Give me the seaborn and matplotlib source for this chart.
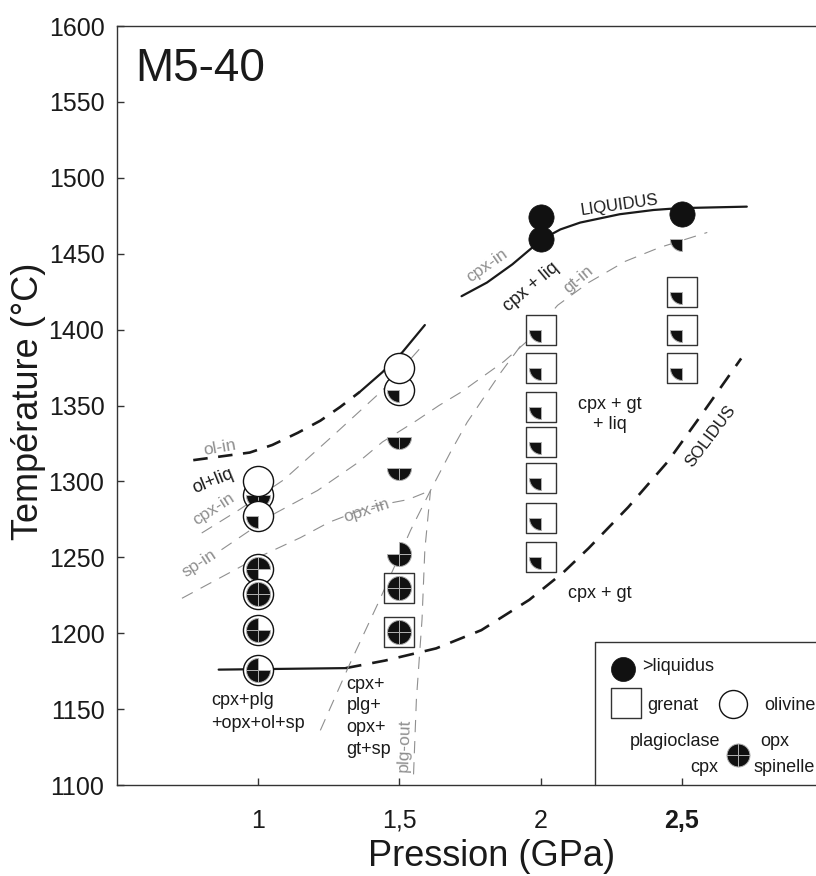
import matplotlib
matplotlib.use("Agg")
import matplotlib.pyplot as plt
import seaborn as sns
from matplotlib.path import Path


# Experimental runs (drawing order matters: later symbols sit on top)
run_p = [1, 1, 1, 1, 1, 1, 1,
         1.5, 1.5, 1.5, 1.5, 1.5, 1.5, 1.5,
         2, 2, 2, 2, 2, 2, 2, 2, 2,
         2.5, 2.5, 2.5, 2.5, 2.5]
run_t = [1291, 1300, 1277, 1242, 1226, 1202, 1176,
         1360, 1375, 1329, 1309, 1252, 1230, 1201,
         1474, 1460, 1400, 1375, 1349, 1326, 1302, 1276, 1250,
         1476, 1460, 1425, 1400, 1375]

# Phases present in each run (1 = present)
above_liq = [0, 0, 0, 0, 0, 0, 0,
             0, 0, 0, 0, 0, 0, 0,
             1, 1, 0, 0, 0, 0, 0, 0, 0,
             1, 0, 0, 0, 0]
olivine = [1, 1, 1, 1, 1, 1, 1,
           1, 1, 0, 0, 0, 0, 0,
           0, 0, 0, 0, 0, 0, 0, 0, 0,
           0, 0, 0, 0, 0]
garnet = [0, 0, 0, 0, 0, 0, 0,
          0, 0, 0, 0, 0, 1, 1,
          0, 0, 1, 1, 1, 1, 1, 1, 1,
          0, 0, 1, 1, 1]
cpx = [1, 0, 1, 1, 1, 1, 1,
       1, 0, 1, 1, 1, 1, 1,
       0, 0, 1, 1, 1, 1, 1, 1, 1,
       0, 1, 1, 1, 1]
opx = [0, 0, 0, 1, 1, 0, 0,
       0, 0, 0, 0, 1, 1, 1,
       0, 0, 0, 0, 0, 0, 0, 0, 0,
       0, 0, 0, 0, 0]
plg = [0, 0, 0, 1, 1, 1, 1,
       0, 0, 0, 0, 0, 1, 1,
       0, 0, 0, 0, 0, 0, 0, 0, 0,
       0, 0, 0, 0, 0]
spinel = [1, 0, 0, 0, 1, 1, 1,
          0, 0, 1, 1, 1, 1, 1,
          0, 0, 0, 0, 0, 0, 0, 0, 0,
          0, 0, 0, 0, 0]

# Phase boundaries
liquidus_p = [1.72, 1.81, 1.90, 1.97, 2.01, 2.07, 2.14, 2.28, 2.40, 2.49, 2.73]
liquidus_t = [1422, 1431, 1443, 1454, 1460, 1466, 1470.5, 1476, 1478.8, 1480, 1481]

olin_solid_p = [1.36, 1.40, 1.44, 1.51, 1.59]
olin_solid_t = [1359, 1365.5, 1372, 1385, 1403]
olin_dash_p = [0.77, 0.97, 1.05, 1.14, 1.22, 1.29, 1.36]
olin_dash_t = [1314, 1319, 1324, 1332, 1340, 1349, 1359]

solidus_solid_p = [0.86, 1.31]
solidus_solid_t = [1176, 1177]
solidus_dash_p = [1.31, 1.45, 1.63, 1.79, 1.96, 2.08, 2.17, 2.31, 2.45, 2.57, 2.71]
solidus_dash_t = [1177, 1182, 1190, 1202, 1222, 1240, 1256, 1283, 1313, 1344, 1381]

cpxin_p = [0.80, 0.93, 1.09, 1.27, 1.44, 1.57]
cpxin_t = [1266, 1281, 1301, 1331, 1360, 1387]

spin_p = [0.87, 1.06, 1.21, 1.35, 1.44, 1.56, 1.64, 1.72, 1.87, 1.95]
spin_t = [1255, 1279, 1294, 1312, 1326, 1340, 1350, 1359, 1379, 1392]

opxin_p = [0.73, 0.86, 1.00, 1.15, 1.25, 1.39, 1.53, 1.61]
opxin_t = [1223, 1236, 1250, 1263, 1273, 1283, 1288, 1294]

gtin_p = [1.22, 1.32, 1.43, 1.54, 1.61, 1.68, 1.74, 1.86, 1.94, 2.00, 2.06,
          2.17, 2.30, 2.42, 2.59]
gtin_t = [1136, 1178, 1222, 1268, 1294, 1319, 1339, 1372, 1392, 1403, 1416,
          1431, 1445, 1454, 1464]

plgout_p = [1.55, 1.56, 1.58, 1.59, 1.61]
plgout_t = [1107, 1156, 1209, 1255, 1294]

x_ticks = [1, 1.5, 2, 2.5]
x_tick_labels = ["1", "1,5", "2", "2,5"]
y_ticks = [1100, 1150, 1200, 1250, 1300, 1350, 1400, 1450, 1500, 1550, 1600]


sns.set_theme(style="white")
plt.rcParams["font.family"] = ["Liberation Sans", "DejaVu Sans"]

GRAY = "#8f8f8f"
INK = "#1a1a1a"

# quadrant markers: plagioclase / opx / cpx / spinelle
wedge = {
    "plg": Path.wedge(90, 180),
    "opx": Path.wedge(0, 90),
    "cpx": Path.wedge(180, 270),
    "sp": Path.wedge(270, 360),
}

fig = plt.figure(figsize=(8.16, 8.76), dpi=100)
ax = fig.add_axes([117 / 816, 91 / 876, 699 / 816, 759 / 876])


def curve(p, t, color, lw, dash=None):
    ls = "-" if dash is None else (0, dash)
    sns.lineplot(x=p, y=t, sort=False, estimator=None, color=color,
                 linewidth=lw, linestyle=ls, ax=ax, zorder=2)


def dot(x, y, marker, s, fc, ec, lw, z, trans=None):
    kw = {} if trans is None else {"transform": trans}
    sns.scatterplot(x=[x], y=[y], marker=marker, s=s, color=fc,
                    edgecolor=ec, linewidth=lw, zorder=z, ax=ax,
                    clip_on=False, **kw)


def quads(x, y, names, s, z, trans=None):
    for name in names:
        dot(x, y, wedge[name], s, "#111111", "#b0b0b0", 0.7, z, trans)


# Boundaries
curve(liquidus_p, liquidus_t, INK, 1.6)
curve(olin_solid_p, olin_solid_t, INK, 1.6)
curve(olin_dash_p, olin_dash_t, INK, 1.9, (5.5, 4))
curve(solidus_solid_p, solidus_solid_t, INK, 1.6)
curve(solidus_dash_p, solidus_dash_t, INK, 1.9, (6, 4.2))
for p, t in [(cpxin_p, cpxin_t), (spin_p, spin_t), (opxin_p, opxin_t),
             (gtin_p, gtin_t), (plgout_p, plgout_t)]:
    curve(p, t, GRAY, 0.8, (11, 8))

# Runs
for i in range(len(run_p)):
    x, y = run_p[i], run_t[i]
    z = 3 + i * 0.1
    if above_liq[i]:
        dot(x, y, "o", 330, "#111111", "#111111", 0.5, z)
    if olivine[i]:
        dot(x, y, "o", 470, "white", "#111111", 1.0, z)
    if garnet[i]:
        dot(x, y, "s", 470, "white", "#333333", 1.0, z)
    names = []
    if plg[i]:
        names.append("plg")
    if opx[i]:
        names.append("opx")
    if cpx[i]:
        names.append("cpx")
    if spinel[i]:
        names.append("sp")
    quads(x, y, names, 300, z + 0.05)

# Labels on the diagram
ax.text(0.564, 1564, "M5-40", fontsize=33, color=INK, ha="left", va="baseline")
ax.text(2.28, 1482, "LIQUIDUS", fontsize=12, color=INK, rotation=8,
        ha="center", va="center", rotation_mode="anchor")
ax.text(2.60, 1330, "SOLIDUS", fontsize=12, color=INK, rotation=53,
        ha="center", va="center", rotation_mode="anchor")
ax.text(1.965, 1428, "cpx + liq", fontsize=13, color=INK, rotation=40,
        ha="center", va="center", rotation_mode="anchor")
ax.text(2.245, 1344, "cpx + gt\n+ liq", fontsize=13, color=INK,
        ha="center", va="center", linespacing=1.2)
ax.text(2.21, 1226, "cpx + gt", fontsize=13, color=INK, ha="center", va="center")
ax.text(0.84, 1300, "ol+liq", fontsize=13, color=INK, rotation=22,
        ha="center", va="center", rotation_mode="anchor")
ax.text(0.833, 1148, "cpx+plg\n+opx+ol+sp", fontsize=13, color=INK,
        ha="left", va="center", linespacing=1.5)
ax.text(1.312, 1145, "cpx+\nplg+\nopx+\ngt+sp", fontsize=13, color=INK,
        ha="left", va="center", linespacing=1.35)

gray_labels = [
    (1.81, 1442, "cpx-in", 35),
    (2.135, 1433, "gt-in", 40),
    (0.862, 1322, "ol-in", 10),
    (0.844, 1282, "cpx-in", 33),
    (1.383, 1281, "opx-in", 18),
    (0.79, 1246, "sp-in", 33),
    (1.518, 1126, "plg-out", 88),
]
for x, y, s, r in gray_labels:
    ax.text(x, y, s, fontsize=12.5, color=GRAY, rotation=r,
            ha="center", va="center", rotation_mode="anchor")

# Legend box (axes fraction)
T = ax.transAxes
ax.plot([0.6838, 0.6838, 1.0], [0.0, 0.1884, 0.1884], color="#333333",
        lw=1.0, transform=T, clip_on=False, zorder=6)
dot(0.7239, 0.1528, "o", 300, "#111111", "#111111", 0.5, 7, T)
ax.text(0.7511, 0.1555, ">liquidus", fontsize=13, color=INK,
        ha="left", va="center", transform=T)
dot(0.7282, 0.1080, "s", 470, "white", "#333333", 1.0, 7, T)
ax.text(0.7582, 0.1054, "grenat", fontsize=13, color=INK,
        ha="left", va="center", transform=T)
dot(0.8813, 0.1067, "o", 406, "white", "#111111", 1.0, 7, T)
ax.text(0.9256, 0.1054, "olivine", fontsize=13, color=INK,
        ha="left", va="center", transform=T)
quads(0.8884, 0.0395, ["plg", "opx", "cpx", "sp"], 274, 7, T)
ax.text(0.8627, 0.0567, "plagioclase", fontsize=13, color=INK,
        ha="right", va="center", transform=T)
ax.text(0.9199, 0.0567, "opx", fontsize=13, color=INK,
        ha="left", va="center", transform=T)
ax.text(0.8598, 0.0237, "cpx", fontsize=13, color=INK,
        ha="right", va="center", transform=T)
ax.text(0.9099, 0.0237, "spinelle", fontsize=13, color=INK,
        ha="left", va="center", transform=T)

# Axes
ax.set_xlim(0.5, 2.975)
ax.set_ylim(1100, 1600)
ax.set_xticks(x_ticks)
ax.set_xticklabels(x_tick_labels)
ax.get_xticklabels()[3].set_fontweight("bold")
ax.set_yticks(y_ticks)
ax.tick_params(axis="both", direction="in", length=5, width=1,
               colors="#333333", labelcolor=INK, labelsize=18)
ax.tick_params(axis="x", pad=17)
ax.tick_params(axis="y", pad=9)
ax.tick_params(bottom=True, left=True)
ax.spines["right"].set_visible(False)
for side in ["top", "left", "bottom"]:
    ax.spines[side].set_color("#333333")
    ax.spines[side].set_linewidth(1.0)

ax.set_xlabel("Pression (GPa)", fontsize=26, color=INK, va="baseline")
ax.xaxis.set_label_coords(0.5365, -0.1067)
ax.set_ylabel("Température (°C)", fontsize=26, color=INK,
              va="center", ha="center")
ax.yaxis.set_label_coords(-0.1273, 0.505)

fig.savefig("out.png", dpi=100)
